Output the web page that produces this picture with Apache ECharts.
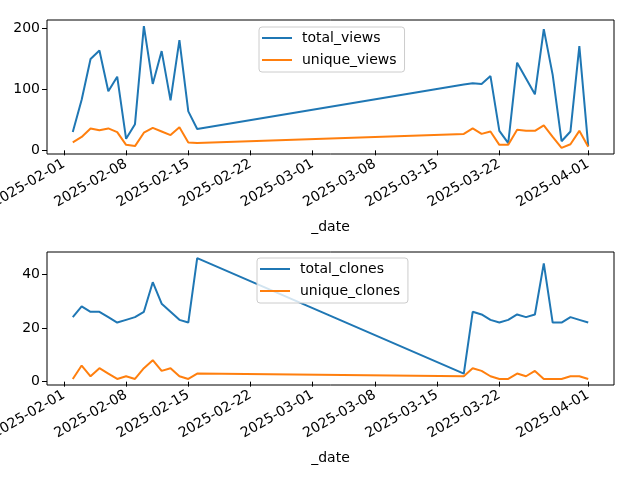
<!DOCTYPE html>
<html>
<head>
<meta charset="utf-8">
<script src="https://cdn.jsdelivr.net/npm/echarts@6/dist/echarts.min.js"></script>
<style>
  html, body { margin: 0; padding: 0; background: #fff; }
  #chart { width: 640px; height: 480px; }
</style>
</head>
<body>
<div id="chart"></div>
<script>
// Dates of the samples (gap between mid-Feb and mid-Mar)
const dates = [
  '2025-02-02', '2025-02-03', '2025-02-04', '2025-02-05', '2025-02-06',
  '2025-02-07', '2025-02-08', '2025-02-09', '2025-02-10', '2025-02-11',
  '2025-02-12', '2025-02-13', '2025-02-14', '2025-02-15', '2025-02-16',
  '2025-03-18', '2025-03-19', '2025-03-20', '2025-03-21', '2025-03-22',
  '2025-03-23', '2025-03-24', '2025-03-25', '2025-03-26', '2025-03-27',
  '2025-03-28', '2025-03-29', '2025-03-30', '2025-03-31', '2025-04-01'
];

const totalViews = [30, 83, 150, 164, 97, 121, 19, 43, 204, 109, 163, 82, 181, 64, 35,
  108, 110, 109, 122, 32, 12, 144, 118, 92, 199, 124, 15, 31, 171, 7];
const uniqueViews = [13, 22, 36, 33, 36, 30, 9, 7, 29, 37, 31, 25, 38, 13, 12,
  27, 36, 27, 31, 9, 9, 34, 32, 32, 41, 22, 4, 10, 32, 6];

const totalClones = [24, 28, 26, 26, 24, 22, 23, 24, 26, 37, 29, 26, 23, 22, 46,
  3, 26, 25, 23, 22, 23, 25, 24, 25, 44, 22, 22, 24, 23, 22];
const uniqueClones = [1, 6, 2, 5, 3, 1, 2, 1, 5, 8, 4, 5, 2, 1, 3,
  2, 5, 4, 2, 1, 1, 3, 2, 4, 1, 1, 1, 2, 2, 1];

// Tick labels
const dateTicks = ['2025-02-01', '2025-02-08', '2025-02-15', '2025-02-22', '2025-03-01',
  '2025-03-08', '2025-03-15', '2025-03-22', '2025-04-01'];
const viewTicks = [0, 100, 200];
const cloneTicks = [0, 20, 40];

const BLUE = '#1f77b4';
const ORANGE = '#ff7f0e';
const FONT = 'DejaVu Sans';
const FS = 14;

function toTs(s) {
  const p = s.split('-').map(Number);
  return Date.UTC(p[0], p[1] - 1, p[2]);
}

function fmtDate(v) {
  const d = new Date(v);
  const mm = String(d.getUTCMonth() + 1).padStart(2, '0');
  const dd = String(d.getUTCDate()).padStart(2, '0');
  return d.getUTCFullYear() + '-' + mm + '-' + dd;
}

const ts = dates.map(toTs);
const tickTs = dateTicks.map(toTs);

// matplotlib style 5% margins
const span = ts[ts.length - 1] - ts[0];
const xMin = ts[0] - span * 0.05;
const xMax = ts[ts.length - 1] + span * 0.05;

function yRange(arrs) {
  const all = [].concat(...arrs);
  const lo = Math.min(...all), hi = Math.max(...all);
  const m = (hi - lo) * 0.05;
  return [lo - m, hi + m];
}
const viewRange = yRange([totalViews, uniqueViews]);
const cloneRange = yRange([totalClones, uniqueClones]);

// timestamps on a plain value axis so the ticks can be placed by hand
function xAxisFor(gridIndex) {
  return {
    type: 'value',
    gridIndex: gridIndex,
    min: xMin,
    max: xMax,
    name: '_date',
    nameLocation: 'middle',
    nameGap: 66,
    nameTextStyle: { color: '#000', fontFamily: FONT, fontSize: FS },
    axisLine: { show: false },
    axisTick: { show: true, length: 5, customValues: tickTs, lineStyle: { color: '#000' } },
    axisLabel: {
      customValues: tickTs,
      rotate: 30,
      margin: 9,
      color: '#000',
      fontFamily: FONT,
      fontSize: FS,
      formatter: (v) => fmtDate(v)
    },
    splitLine: { show: false }
  };
}

function yAxisFor(gridIndex, range, ticks) {
  return {
    type: 'value',
    gridIndex: gridIndex,
    min: range[0],
    max: range[1],
    axisLine: { show: false },
    axisTick: { show: true, length: 5, customValues: ticks, lineStyle: { color: '#000' } },
    axisLabel: {
      customValues: ticks,
      margin: 7,
      color: '#000',
      fontFamily: FONT,
      fontSize: FS
    },
    splitLine: { show: false }
  };
}

function legendFor(top, left, names) {
  return {
    data: names,
    orient: 'vertical',
    top: top,
    left: left,
    icon: 'rect',
    itemWidth: 30,
    itemHeight: 2,
    itemGap: 8,
    padding: [4, 8, 5, 3],
    backgroundColor: 'rgba(255,255,255,0.8)',
    borderColor: '#cccccc',
    borderWidth: 1,
    borderRadius: 3,
    z: 10,
    textStyle: { color: '#000', fontFamily: FONT, fontSize: FS, padding: [0, 0, 0, 5] }
  };
}

function lineSeries(name, values, color, idx) {
  return {
    name: name,
    type: 'line',
    xAxisIndex: idx,
    yAxisIndex: idx,
    showSymbol: false,
    symbol: 'none',
    lineStyle: { width: 2, color: color },
    itemStyle: { color: color },
    data: values.map((v, i) => [ts[i], v])
  };
}

const chart = echarts.init(document.getElementById('chart'));
chart.setOption({
  animation: false,
  backgroundColor: '#fff',
  grid: [
    { left: 47, right: 26, top: 20, height: 134, outerBoundsMode: 'none', containLabel: false, show: true, borderColor: '#000', borderWidth: 1, backgroundColor: 'transparent' },
    { left: 47, right: 26, top: 252, height: 133, outerBoundsMode: 'none', containLabel: false, show: true, borderColor: '#000', borderWidth: 1, backgroundColor: 'transparent' }
  ],
  legend: [
    legendFor(27, 259, ['total_views', 'unique_views']),
    legendFor(258, 257, ['total_clones', 'unique_clones'])
  ],
  xAxis: [xAxisFor(0), xAxisFor(1)],
  yAxis: [yAxisFor(0, viewRange, viewTicks), yAxisFor(1, cloneRange, cloneTicks)],
  series: [
    lineSeries('total_views', totalViews, BLUE, 0),
    lineSeries('unique_views', uniqueViews, ORANGE, 0),
    lineSeries('total_clones', totalClones, BLUE, 1),
    lineSeries('unique_clones', uniqueClones, ORANGE, 1)
  ]
});
</script>
</body>
</html>
